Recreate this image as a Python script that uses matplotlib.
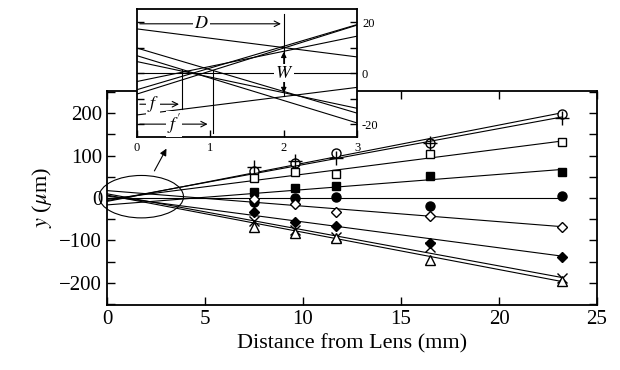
import numpy as np
import matplotlib
matplotlib.use("Agg")
import matplotlib.pyplot as plt
from matplotlib.patches import Ellipse

plt.rcParams['font.family'] = ['Liberation Serif', 'DejaVu Serif']
plt.rcParams['mathtext.fontset'] = 'stix'

# distances of the measurement planes (mm)
dist = [7.5, 9.6, 11.7, 16.5, 23.2]

# measured displacements (um), one list per ray
open_circle = [64, 82, 107, 129, 199]
plus = [74, 88, 93, 129, 189]
open_square = [47, 60, 56, 104, 132]
filled_square = [15, 24, 27, 52, 60]
filled_circle = [-9, 1, 2, -18, 5]
open_diamond = [-2, -15, -32, -42, -69]
filled_diamond = [-32, -56, -67, -106, -138]
cross = [-54, -75, -92, -115, -188]
triangle = [-69, -82, -95, -146, -195]

# fitted lines: intercept (um), slope (um/mm)
intercepts = [-8.2, -6.5, -3.3, -16.4, 0.0, 17.3, 4.5, 9.8, 6.8]
slopes = [9.0, 8.5, 5.92, 3.6, 0.0, -3.66, -6.1, -8.5, -8.78]

series = [open_circle, plus, open_square, filled_square, filled_circle,
          open_diamond, filled_diamond, cross, triangle]
markers = ['o', '+', 's', 's', 'o', 'D', 'D', 'x', '^']
fills = ['white', 'black', 'white', 'black', 'black', 'white', 'black', 'black', 'white']
sizes = [6.5, 10, 6, 6, 6.5, 5.5, 5.5, 7, 7.5]

fig = plt.figure(figsize=(6.2, 3.7), dpi=100)
ax = fig.add_axes([0.1726, 0.176, 0.7904, 0.578])

for vals, m, fc, ms, a, b in zip(series, markers, fills, sizes, intercepts, slopes):
    xs = np.array([0, dist[-1]])
    ax.plot(xs, a + b * xs, color='black', lw=0.8)
    ax.plot(dist, vals, linestyle='none', marker=m, ms=ms, mfc=fc,
            mec='black', mew=1.0)

ax.set_xlim(0, 25)
ax.set_ylim(-252, 252)
ax.set_xticks([0, 5, 10, 15, 20, 25])
ax.set_yticks([-200, -100, 0, 100, 200])
ax.set_yticks([-250, -150, -50, 50, 150, 250], minor=True)
ax.tick_params(which='both', direction='in', top=True, right=True,
               length=6, width=1.0, labelsize=15)
for s in ax.spines.values():
    s.set_linewidth(1.3)
ax.set_xlabel('Distance from Lens (mm)', fontsize=16)
ax.set_ylabel('$y$ ($\\mu$m)', fontsize=16)

ax.add_patch(Ellipse((1.75, 3), 4.3, 100, fill=False, lw=0.8, clip_on=False))
ax.annotate('', xy=(3.1, 122), xytext=(2.35, 58),
            arrowprops=dict(arrowstyle='-|>', lw=0.8, color='black',
                            mutation_scale=10))

# inset: zoom on the focal region
ins = fig.add_axes([0.221, 0.630, 0.355, 0.345])
for a, b in zip(intercepts, slopes):
    xs = np.array([0, 3])
    ins.plot(xs, a + b * xs, color='black', lw=0.8)
ins.set_xlim(0, 3)
ins.set_ylim(-25, 25)
ins.set_xticks([0, 1, 2, 3])
ins.set_yticks([-20, 0, 20], labels=['-20', '0', '20'])
ins.set_yticks([-10, 10], minor=True)
ins.yaxis.tick_right()
ins.tick_params(which='both', direction='in', left=True, right=True,
                length=5, width=1.0, labelsize=9)
for s in ins.spines.values():
    s.set_linewidth(1.3)

arr = dict(arrowstyle='->', lw=0.8, color='black')
box = dict(fc='white', ec='none', pad=0.5)
ins.annotate('', xy=(2, 19.3), xytext=(0, 19.3), arrowprops=arr)
ins.text(0.88, 19.3, '$D$', fontsize=13, ha='center', va='center', bbox=box)
ins.plot([2, 2], [23.2, -8.9], color='black', lw=0.8)
ins.annotate('', xy=(2, 9.4), xytext=(2, 0),
             arrowprops=dict(arrowstyle='-|>', lw=0.8, color='black', mutation_scale=8))
ins.annotate('', xy=(2, -8.9), xytext=(2, 0),
             arrowprops=dict(arrowstyle='-|>', lw=0.8, color='black', mutation_scale=8))
ins.text(2, 0, '$W$', fontsize=13, ha='center', va='center', bbox=box)

ins.annotate('', xy=(0.61, -12.2), xytext=(0, -12.2), arrowprops=arr)
ins.text(0.22, -12.2, '$f$', fontsize=13, ha='center', va='center', bbox=box)
ins.plot([0.61, 0.61], [1.3, -14.2], color='black', lw=0.8)
ins.annotate('', xy=(1.0, -20), xytext=(0, -20), arrowprops=arr)
ins.text(0.5, -20, "$f'$", fontsize=13, ha='center', va='center', bbox=box)
ins.plot([1.03, 1.03], [1.3, -23.4], color='black', lw=0.8)

fig.savefig('out.png', dpi=100)
